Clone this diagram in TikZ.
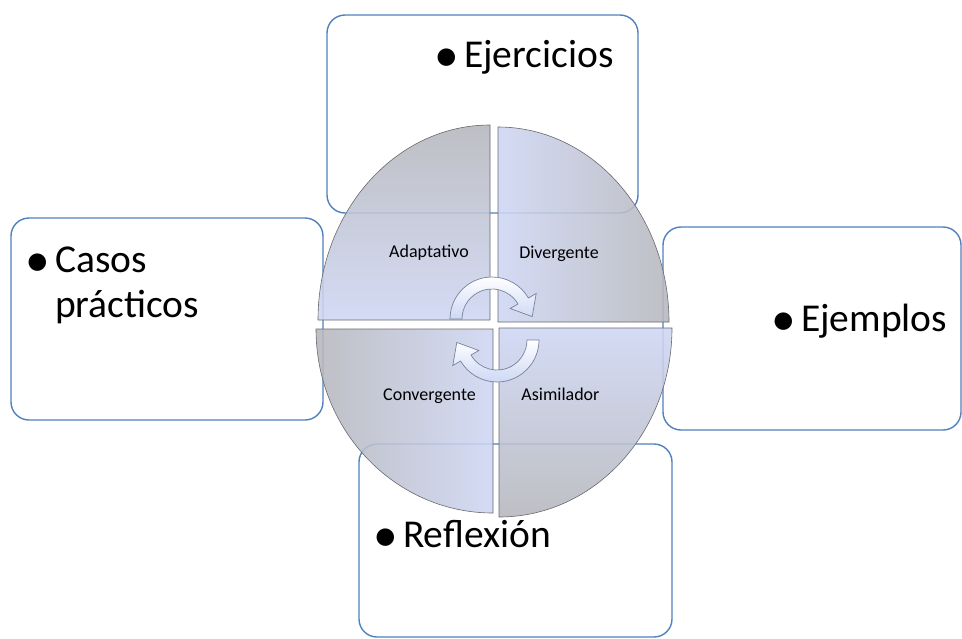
\documentclass[tikz,border=0pt]{standalone}
\usepackage{fontspec}
\setmainfont{Carlito}
\definecolor{boxblue}{RGB}{79,129,189}
\definecolor{qgray}{RGB}{182,183,189}
\definecolor{qblue}{RGB}{206,214,243}
\definecolor{qline}{RGB}{105,105,110}
\definecolor{arrfill}{RGB}{205,216,245}
\definecolor{arrline}{RGB}{120,130,155}
\newcommand{\bul}{\llap{\raisebox{-4.5pt}{\scalebox{1.25}{•}}\hspace{5pt}}}
\begin{document}
\begin{tikzpicture}[x=1pt,y=-1pt,
  box/.style={draw=boxblue, line width=1.4pt, fill=white, rounded corners=18pt, inner sep=0pt},
  bigtext/.style={font=\fontsize{39.5}{45}\selectfont, inner sep=0pt, anchor=base west},
  quad/.style={draw=qline, line width=0.6pt, fill opacity=0.88},
  qlabel/.style={font=\fontsize{18}{20}\selectfont, inner sep=0pt, anchor=base},
  cyc/.style={draw=arrline, line width=0.7pt, top color=white, bottom color=arrfill}]
\useasboundingbox (0,0) rectangle (962,638);
% boxes
\node[box, minimum width=311pt, minimum height=198pt] (ejer) at (482.5,114) {};
\node[box, minimum width=312pt, minimum height=202pt] (casos) at (167,319) {};
\node[box, minimum width=298pt, minimum height=203pt] (ejem) at (812,328.5) {};
\node[box, minimum width=313pt, minimum height=193pt] (refl) at (515.5,540.5) {};
% box texts
\node[bigtext] (tejer) at (464,67) {\bul Ejercicios};
\node[bigtext] (tcasos) at (55,272) {\begin{tabular}[t]{@{}l@{}}\bul Casos\\prácticos\end{tabular}};
\node[bigtext] (tejem) at (801,331) {\bul Ejemplos};
\node[bigtext] (trefl) at (403,547) {\bul Reflexión};
% quadrants
\path[quad, top color=qgray, bottom color=qblue] (490,320) -- (318,320) arc[start angle=180,end angle=270,x radius=172,y radius=195] -- cycle;
\path[quad, left color=qblue, right color=qgray] (498,322) -- (498,127) arc[start angle=270,end angle=360,x radius=171,y radius=195] -- cycle;
\path[quad, top color=qblue, bottom color=qgray] (499,328) -- (672,328) arc[start angle=0,end angle=90,x radius=173,y radius=189] -- cycle;
\path[quad, left color=qgray, right color=qblue] (493,329) -- (493,513) arc[start angle=90,end angle=180,x radius=177,y radius=184] -- cycle;
% quadrant labels
\node[qlabel] (adapt) at (429,257) {Adaptativo};
\node[qlabel] (diver) at (559,258) {Divergente};
\node[qlabel] (conv) at (429.5,400) {Convergente};
\node[qlabel] (asim) at (560.5,400) {Asimilador};
% cycle arrows
\path[cyc] (450,319) arc[start angle=180,end angle=330,radius=42] -- (536.2,293.5) -- (532.2,316.6) -- (510.2,308.5) -- (518,304) arc[start angle=330,end angle=180,radius=30] -- cycle;
\path[cyc] (539,340) arc[start angle=0,end angle=150,radius=42] -- (452.8,365.5) -- (456.8,342.4) -- (478.8,350.5) -- (471,355) arc[start angle=150,end angle=0,radius=30] -- cycle;
\end{tikzpicture}
\end{document}
